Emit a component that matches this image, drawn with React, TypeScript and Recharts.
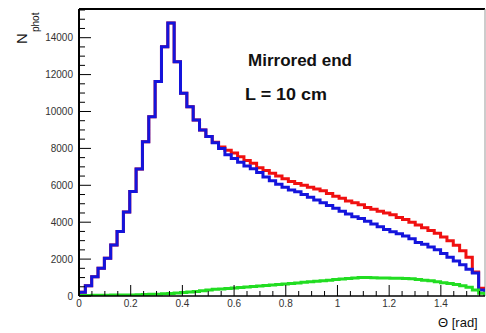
import React from "react";
import { LineChart, Line, XAxis, YAxis, ReferenceLine } from "recharts";

// 64 bins over [0, pi/2]
const BIN_WIDTH = Math.PI / 2 / 64;
const X_MAX = Math.PI / 2;
const Y_MAX = 15555;

const redCounts = [
  200, 550, 1050, 1500, 2050, 2770, 3500, 4550, 5670, 6880,
  8360, 9720, 11620, 13510, 14800, 12700, 10990, 10260, 9540, 9000,
  8650, 8330, 8080, 7900, 7750, 7550, 7350, 7200, 6950, 6800,
  6650, 6500, 6350, 6200, 6100, 6000, 5900, 5800, 5700, 5550,
  5400, 5300, 5150, 5050, 4950, 4800, 4700, 4600, 4500, 4400,
  4250, 4150, 4000, 3850, 3700, 3550, 3400, 3200, 3000, 2750,
  2450, 2100, 1300, 420,
];

const blueCounts = [
  200, 550, 1050, 1500, 2050, 2770, 3500, 4550, 5670, 6880,
  8360, 9720, 11620, 13510, 14800, 12700, 10990, 10260, 9540, 9000,
  8650, 8300, 8000, 7650, 7450, 7250, 7050, 6900, 6700, 6450,
  6250, 6050, 5900, 5750, 5650, 5500, 5350, 5200, 5050, 4900,
  4750, 4600, 4450, 4300, 4200, 4050, 3900, 3750, 3600, 3480,
  3380, 3250, 3100, 2900, 2800, 2650, 2500, 2300, 2100, 1900,
  1700, 1450, 1250, 320,
];

const greenCounts = [
  30, 30, 40, 40, 40, 50, 50, 60, 60, 70,
  80, 90, 100, 120, 140, 160, 190, 220, 250, 280,
  320, 360, 380, 410, 440, 460, 490, 510, 540, 570,
  600, 620, 650, 680, 710, 740, 770, 800, 830, 860,
  890, 920, 950, 980, 1000, 1000, 990, 980, 970, 960,
  960, 950, 930, 900, 860, 820, 770, 720, 680, 630,
  560, 480, 330, 150,
];

const xMajorTicks = [0, 0.2, 0.4, 0.6, 0.8, 1, 1.2, 1.4];
const yMajorTicks = [0, 2000, 4000, 6000, 8000, 10000, 12000, 14000];

// minor ticks: every 0.05 rad / every 500 counts
const xTicks = Array.from({ length: 32 }, (_, i) => +(i * 0.05).toFixed(2));
const yTicks = Array.from({ length: 32 }, (_, i) => i * 500);

// histogram outline: start at baseline, one point per bin edge, back to baseline
const stepData = [
  { x: 0, red: 0, blue: 0, green: 0 },
  ...redCounts.map((_, i) => ({
    x: i * BIN_WIDTH,
    red: redCounts[i],
    blue: blueCounts[i],
    green: greenCounts[i],
  })),
  { x: 64 * BIN_WIDTH, red: 0, blue: 0, green: 0 },
];

const FONT = "'Liberation Sans', Arial, Helvetica, sans-serif";

function XTick(props: any) {
  const { x, y, payload } = props;
  const v = payload.value;
  const major = xMajorTicks.some((t) => Math.abs(t - v) < 1e-6);
  return (
    <g>
      <line x1={x} x2={x} y1={y} y2={y - (major ? 11 : 5)} stroke="#000" strokeWidth={1} />
      {major && (
        <text x={x} y={y + 11} textAnchor="middle" fontSize={10} fill="#333" fontFamily={FONT}>
          {String(v)}
        </text>
      )}
    </g>
  );
}

function YTick(props: any) {
  const { x, y, payload } = props;
  const v = payload.value;
  const major = yMajorTicks.includes(v);
  return (
    <g>
      <line x1={x} x2={x + (major ? 12 : 6)} y1={y} y2={y} stroke="#000" strokeWidth={1} />
      {major && (
        <text x={x - 6} y={y + 3.5} textAnchor="end" fontSize={10} fill="#333" fontFamily={FONT}>
          {String(v)}
        </text>
      )}
    </g>
  );
}

export default function App() {
  return (
    <div
      style={{
        position: "absolute",
        left: 0,
        top: 0,
        width: 486,
        height: 333,
        background: "#fff",
        overflow: "hidden",
      }}
    >
      <LineChart
        width={486}
        height={333}
        data={stepData}
        margin={{ top: 9, right: 1, bottom: 0, left: 0 }}
      >
        <XAxis
          dataKey="x"
          type="number"
          domain={[0, X_MAX]}
          ticks={xTicks}
          interval={0}
          tickSize={0}
          tickMargin={0}
          height={37}
          axisLine={{ stroke: "#000", strokeWidth: 1.5 }}
          tickLine={false}
          tick={<XTick />}
          allowDataOverflow
        />
        <YAxis
          type="number"
          domain={[0, Y_MAX]}
          ticks={yTicks}
          interval={0}
          tickSize={0}
          tickMargin={0}
          width={79}
          axisLine={{ stroke: "#000", strokeWidth: 2 }}
          tickLine={false}
          tick={<YTick />}
          allowDataOverflow
        />
        <ReferenceLine y={Y_MAX} stroke="#000" strokeWidth={2} />
        <ReferenceLine x={X_MAX} stroke="#999" strokeWidth={1} />
        <Line
          dataKey="red"
          type="stepAfter"
          stroke="#f01010"
          strokeWidth={3}
          dot={false}
          isAnimationActive={false}
        />
        <Line
          dataKey="blue"
          type="stepAfter"
          stroke="#1414dc"
          strokeWidth={3}
          dot={false}
          isAnimationActive={false}
        />
        <Line
          dataKey="green"
          type="stepAfter"
          stroke="#22dd22"
          strokeWidth={3}
          dot={false}
          isAnimationActive={false}
        />
      </LineChart>
      <svg
        width={486}
        height={333}
        style={{ position: "absolute", left: 0, top: 0, pointerEvents: "none" }}
      >
        <g transform="translate(27,44) rotate(-90)" fontFamily={FONT} fill="#111">
          <text x={0} y={0} fontSize={15}>N</text>
          <text x={12} y={12} fontSize={10}>phot</text>
        </g>
        <text x={248} y={66} fontSize={16} fontWeight="bold" textLength={104} lengthAdjust="spacingAndGlyphs" fontFamily={FONT} fill="#111">
          Mirrored end
        </text>
        <text x={245} y={100} fontSize={16} fontWeight="bold" textLength={82} lengthAdjust="spacingAndGlyphs" fontFamily={FONT} fill="#111">
          L = 10 cm
        </text>
        <text x={438} y={327} fontSize={13} fontFamily={FONT} fill="#111">
          Θ [rad]
        </text>
      </svg>
    </div>
  );
}
